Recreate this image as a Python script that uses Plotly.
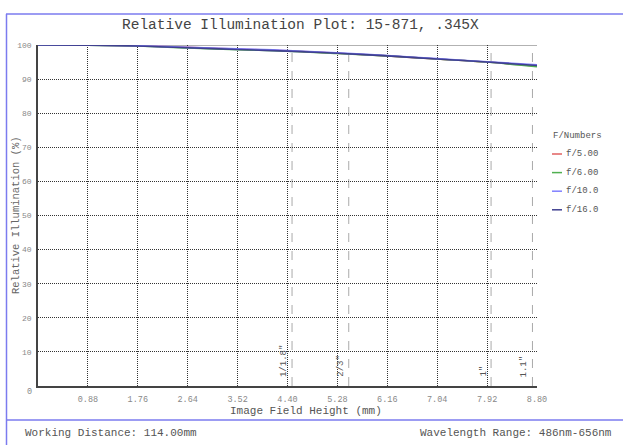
import plotly.graph_objects as go

# ---------------- data ----------------
field_height = [0, 0.88, 1.76, 2.64, 3.52, 4.40, 5.28, 6.16, 7.04, 7.92, 8.80]
f_numbers = ["f/5.00", "f/6.00", "f/10.0", "f/16.0"]
ri_f5 = [100, 99.95, 99.8, 99.3, 98.8, 98.3, 97.6, 96.8, 95.9, 95.0, 93.8]
ri_f6 = [100, 99.95, 99.7, 99.1, 98.6, 98.2, 97.5, 96.8, 95.9, 95.0, 93.6]
ri_f10 = [100, 99.95, 99.8, 99.3, 98.9, 98.4, 97.7, 96.9, 96.0, 95.1, 94.2]
ri_f16 = [100, 99.95, 99.7, 99.2, 98.7, 98.2, 97.6, 96.8, 95.9, 95.0, 94.0]
series = [ri_f5, ri_f6, ri_f10, ri_f16]
colors = ["#e06060", "#50b050", "#8080ff", "#404090"]

x_ticks = [0.88, 1.76, 2.64, 3.52, 4.40, 5.28, 6.16, 7.04, 7.92, 8.80]
x_ticktext = ["0.88", "1.76", "2.64", "3.52", "4.40", "5.28", "6.16", "7.04", "7.92", "8.80"]
y_ticks = [10, 20, 30, 40, 50, 60, 70, 80, 90, 100]

sensor_names = ['1/1.8"', '2/3"', '1"', '1.1"']
sensor_half_diag = [4.48, 5.48, 7.99, 8.72]

title_text = "Relative Illumination Plot: 15-871, .345X"
x_title = "Image Field Height (mm)"
y_title = "Relative Illumination (%)"
legend_title = "F/Numbers"
footer_left = "Working Distance: 114.00mm"
footer_right = "Wavelength Range: 486nm-656nm"

# ---------------- layout geometry ----------------
W, H = 623, 445
L, R, T, B = 38, 537, 45, 386
FONT = "Liberation Mono, Courier New, monospace"
GRID_DASH = "1px,1px"


def px(xp):
    return (xp - L) / (R - L)


def py(yp):
    return (B - yp) / (B - T)


fig = go.Figure()
for name, vals, col in zip(f_numbers, series, colors):
    fig.add_trace(go.Scatter(x=field_height, y=vals, mode="lines", name=name,
                             line=dict(color=col, width=1.6, shape="spline"),
                             showlegend=False, hoverinfo="skip"))

shapes = []
annotations = []

# frame lines (blue)
frame_col = "#7b7bef"
shapes.append(dict(type="line", xref="paper", yref="paper", x0=px(6), x1=px(W + 5),
                   y0=py(14), y1=py(14), line=dict(color=frame_col, width=1.5)))
shapes.append(dict(type="line", xref="paper", yref="paper", x0=px(6.5), x1=px(6.5),
                   y0=py(14), y1=py(H + 5), line=dict(color=frame_col, width=1.5)))
shapes.append(dict(type="line", xref="paper", yref="paper", x0=px(6), x1=px(W + 5),
                   y0=py(420), y1=py(420), line=dict(color=frame_col, width=1.5)))

# top line at 100
shapes.append(dict(type="line", xref="paper", yref="y", x0=0, x1=1, y0=100, y1=100,
                   line=dict(color="#999999", width=1.5), layer="below"))

# sensor markers
for nm, xv in zip(sensor_names, sensor_half_diag):
    shapes.append(dict(type="line", xref="x", yref="paper", x0=xv, x1=xv, y0=0, y1=1,
                       line=dict(color="#aaaaaa", width=1, dash="dash"), layer="below"))
    annotations.append(dict(x=xv, y=py(379), xref="x", yref="paper", text=nm,
                            textangle=-90, showarrow=False, xanchor="right", yanchor="bottom",
                            xshift=-1, font=dict(family=FONT, size=9, color="#555555")))

# y "0" label
annotations.append(dict(x=px(34), y=py(392), xref="paper", yref="paper", text="0",
                        showarrow=False, xanchor="right", yanchor="middle",
                        font=dict(family=FONT, size=8.5, color="#888888")))

# title
annotations.append(dict(x=px(300), y=py(25), xref="paper", yref="paper", text=title_text,
                        showarrow=False, xanchor="center", yanchor="middle",
                        font=dict(family=FONT, size=14.5, color="#444444")))

# axis titles
annotations.append(dict(x=px(306), y=py(411), xref="paper", yref="paper", text=x_title,
                        showarrow=False, xanchor="center", yanchor="middle",
                        font=dict(family=FONT, size=11, color="#555555")))
annotations.append(dict(x=px(16), y=py(215), xref="paper", yref="paper", text=y_title,
                        textangle=-90, showarrow=False, xanchor="center", yanchor="middle",
                        font=dict(family=FONT, size=10.5, color="#666666")))

# footers
annotations.append(dict(x=px(23), y=py(433), xref="paper", yref="paper", text=footer_left,
                        showarrow=False, xanchor="left", yanchor="middle",
                        font=dict(family=FONT, size=11, color="#555555")))
annotations.append(dict(x=px(614), y=py(433), xref="paper", yref="paper", text=footer_right,
                        showarrow=False, xanchor="right", yanchor="middle",
                        font=dict(family=FONT, size=11, color="#555555")))

# legend (manual)
annotations.append(dict(x=px(551), y=py(136), xref="paper", yref="paper", text=legend_title,
                        showarrow=False, xanchor="left", yanchor="middle",
                        font=dict(family=FONT, size=9, color="#555555")))
for i, (name, col) in enumerate(zip(f_numbers, colors)):
    yy = 154 + i * 18.6
    shapes.append(dict(type="line", xref="paper", yref="paper", x0=px(552), x1=px(562),
                       y0=py(yy), y1=py(yy), line=dict(color=col, width=1.5)))
    annotations.append(dict(x=px(564), y=py(yy), xref="paper", yref="paper", text=name,
                            showarrow=False, xanchor="left", yanchor="middle",
                            font=dict(family=FONT, size=9, color="#555555")))

fig.update_layout(
    width=W, height=H,
    margin=dict(l=L, r=W - R, t=T, b=H - B, pad=0, autoexpand=False),
    paper_bgcolor="white", plot_bgcolor="white",
    showlegend=False,
    shapes=shapes, annotations=annotations,
    font=dict(family=FONT, color="#555555"),
)
fig.update_xaxes(range=[0, 8.8], tickvals=x_ticks, ticktext=x_ticktext, automargin=False,
                 showgrid=True, gridcolor="#333333", griddash=GRID_DASH, gridwidth=1,
                 showline=True, linecolor="#444444", linewidth=1.5, zeroline=False,
                 ticks="", ticklabelstandoff=4,
                 tickfont=dict(family=FONT, size=8.5, color="#888888"))
fig.update_yaxes(range=[0, 100], tickvals=y_ticks, automargin=False,
                 showgrid=True, gridcolor="#333333", griddash=GRID_DASH, gridwidth=1,
                 showline=True, linecolor="#444444", linewidth=1.5, zeroline=False,
                 ticks="", ticklabelstandoff=3,
                 tickfont=dict(family=FONT, size=8, color="#888888"))

fig.write_html("out.html", config={"displayModeBar": False},
               post_script="document.body.style.margin='0';document.body.style.overflow='hidden';")
